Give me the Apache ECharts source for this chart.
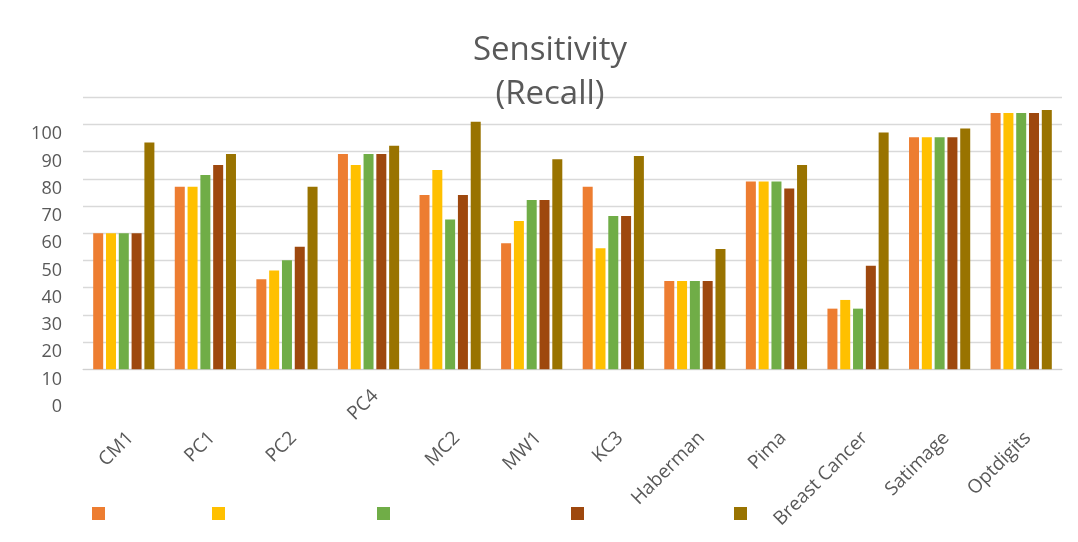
<!DOCTYPE html>
<html>
<head>
<meta charset="utf-8">
<script src="https://cdn.jsdelivr.net/npm/echarts@6/dist/echarts.min.js"></script>
<style>
html,body{margin:0;padding:0;background:#fff;}
#chart{width:1078px;height:542px;}
</style>
</head>
<body>
<div id="chart"></div>
<script>
// ---- data ----
const categories = ['CM1','PC1','PC2','PC4','MC2','MW1','KC3','Haberman','Pima','Breast Cancer','Satimage','Optdigits'];
const seriesNames = ['Series 1','Series 2','Series 3','Series 4','Series 5'];
const series1 = [50, 67.1, 33.1, 79.2, 64.1, 46.3, 67.1, 32.5, 69.0, 22.3, 85.3, 94.2];
const series2 = [50, 67.1, 36.3, 75.1, 73.3, 54.5, 44.5, 32.5, 69.0, 25.5, 85.3, 94.2];
const series3 = [50, 71.4, 40.1, 79.2, 55.1, 62.2, 56.4, 32.5, 69.0, 22.3, 85.3, 94.2];
const series4 = [50, 75.1, 45.1, 79.2, 64.1, 62.2, 56.4, 32.5, 66.5, 38.1, 85.3, 94.2];
const series5 = [83.4, 79.2, 67.1, 82.2, 91.0, 77.2, 78.4, 44.2, 75.1, 87.1, 88.5, 95.3];
const yTickLabels = [0,10,20,30,40,50,60,70,80,90,100];
const titleText = 'Sensitivity\n(Recall)';

const colors = ['#ED7D31','#FFC000','#70AD47','#9E480E','#997300'];
const allSeries = [series1, series2, series3, series4, series5];
const legendLefts = [92, 212, 377, 571, 734];
const FONT = '"Open Sans", sans-serif';

const chart = echarts.init(document.getElementById('chart'));
const option = {
  backgroundColor: '#ffffff',
  animation: false,
  textStyle: { fontFamily: FONT },
  color: colors,
  title: {
    text: titleText,
    left: 545,
    top: 24,
    textAlign: 'center',
    textStyle: { fontFamily: FONT, fontSize: 33, fontWeight: 'normal', color: '#595959', lineHeight: 44 }
  },
  legend: seriesNames.map((n, i) => ({
    data: [n],
    left: legendLefts[i],
    top: 507,
    padding: 0,
    icon: 'rect',
    itemWidth: 13,
    itemHeight: 13,
    formatter: () => '',
    textStyle: { fontSize: 1 }
  })),
  grid: [
    { left: 83, right: 16, top: 97.3, bottom: 172.7 },
    { left: 83, right: 16, top: 134.3, height: 272.4 }
  ],
  xAxis: [
    {
      type: 'category', gridIndex: 0, data: categories,
      axisTick: { show: false },
      axisLine: { lineStyle: { color: '#d0d0d0', width: 1 } },
      axisLabel: {
        interval: 0, rotate: 45, margin: 59, verticalAlign: 'top',
        color: '#595959', fontSize: 19, fontFamily: FONT,
        formatter: v => (v === 'PC4' ? '' : v)
      }
    },
    {
      type: 'category', gridIndex: 0, data: categories, position: 'bottom',
      axisTick: { show: false },
      axisLine: { show: false },
      axisLabel: {
        interval: 0, rotate: 45, margin: 17, verticalAlign: 'top',
        color: '#595959', fontSize: 19, fontFamily: FONT,
        formatter: v => (v === 'PC4' ? v : '')
      }
    },
    { type: 'value', gridIndex: 1, show: false, min: 0, max: 1 }
  ],
  yAxis: [
    {
      type: 'value', gridIndex: 0, min: 0, max: 100, interval: 10,
      axisLabel: { show: false },
      axisLine: { show: false }, axisTick: { show: false },
      splitLine: { lineStyle: { color: '#d9d9d9', width: 1.3 } }
    },
    {
      type: 'value', gridIndex: 1, min: yTickLabels[0], max: yTickLabels[yTickLabels.length - 1], interval: 10,
      axisLine: { show: false }, axisTick: { show: false }, splitLine: { show: false },
      axisLabel: { margin: 21, color: '#595959', fontSize: 18, fontFamily: FONT }
    }
  ],
  series: allSeries.map((d, i) => ({
    name: seriesNames[i],
    type: 'bar',
    xAxisIndex: 0, yAxisIndex: 0,
    data: d,
    barWidth: 10,
    barGap: '28%',
    itemStyle: { color: colors[i] }
  }))
};
chart.setOption(option);
</script>
</body>
</html>
